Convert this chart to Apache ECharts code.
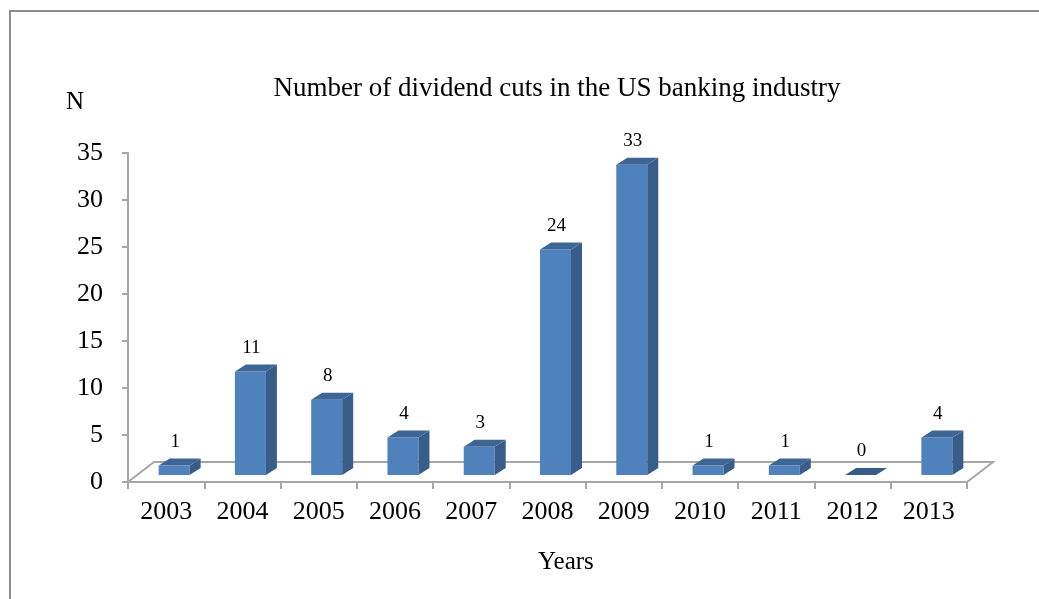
<!DOCTYPE html>
<html>
<head>
<meta charset="utf-8">
<script src="https://cdn.jsdelivr.net/npm/echarts@6/dist/echarts.min.js"></script>
<style>html,body{margin:0;padding:0;background:#fff}#c{width:1039px;height:599px}</style>
</head>
<body>
<div id="c"></div>
<script>
const years = ['2003','2004','2005','2006','2007','2008','2009','2010','2011','2012','2013'];
const cuts = [1, 11, 8, 4, 3, 24, 33, 1, 1, 0, 4];
const titleText = 'Number of dividend cuts in the US banking industry';
const yName = 'N';
const xName = 'Years';

const FONT = "'Liberation Serif','Times New Roman',serif";
const chart = echarts.init(document.getElementById('c'), null, {renderer: 'canvas'});

const FRONT = '#4f81bd', SIDE = '#385d8a', TOP = '#3d6696';
const BW = 31, OX = 8, OY = -7, DX = 11, DY = -7;
const FLOOR_DX = 26, FLOOR_DY = -20;

function renderBar(params, api) {
  const i = api.value(0), v = api.value(1);
  const p0 = api.coord([i, 0]);
  const p1 = api.coord([i, v]);
  const left = p0[0] + OX - BW / 2, right = left + BW;
  const bottom = p0[1] + OY, top = p1[1] + OY;
  const children = [];
  if (bottom - top > 0.5) {
    children.push({type: 'rect', shape: {x: left, y: top, width: BW, height: bottom - top}, style: {fill: FRONT}});
    children.push({type: 'polygon', shape: {points: [[right, top], [right + DX, top + DY], [right + DX, bottom + DY], [right, bottom]]}, style: {fill: SIDE}});
  }
  children.push({type: 'polygon', shape: {points: [[left, top], [left + DX, top + DY], [right + DX, top + DY], [right, top]]}, style: {fill: v > 0 ? TOP : SIDE}});
  children.push({type: 'text', style: {text: String(v), x: left + BW / 2 + 1, y: top + DY - 7, align: 'center', verticalAlign: 'bottom', font: '19px ' + FONT, fill: '#000'}});
  return {type: 'group', children: children};
}

function renderFloor(params, api) {
  const cs = params.coordSys;
  const x0 = cs.x, x1 = cs.x + cs.width, y = cs.y + cs.height;
  return {type: 'polygon', shape: {points: [[x0, y], [x0 + FLOOR_DX, y + FLOOR_DY], [x1 + FLOOR_DX, y + FLOOR_DY], [x1, y]]},
    style: {fill: '#fff', stroke: '#a6a6a6', lineWidth: 2}, z2: 0};
}

chart.setOption({
  animation: false,
  backgroundColor: '#fff',
  title: {text: titleText, left: 552, top: 70, textAlign: 'center',
    textStyle: {fontFamily: FONT, fontSize: 27, fontWeight: 'normal', color: '#000'}},
  graphic: [
    {type: 'rect', shape: {x: 10, y: 11, width: 1100, height: 700}, style: {fill: 'none', stroke: '#8c8c8c', lineWidth: 2}, silent: true},
    {type: 'text', left: 66, top: 90, style: {text: yName, font: '25px ' + FONT, fill: '#000'}},
    {type: 'text', left: 538, top: 550, style: {text: xName, font: '25px ' + FONT, fill: '#000'}}
  ],
  grid: {left: 128, right: 72, top: 153, bottom: 117},
  xAxis: {
    type: 'category', data: years, boundaryGap: true,
    axisLine: {lineStyle: {color: '#a6a6a6', width: 2}},
    axisTick: {show: true, length: 7, lineStyle: {color: '#a6a6a6', width: 2}},
    axisLabel: {margin: 17, fontFamily: FONT, fontSize: 26, color: '#000'}
  },
  yAxis: {
    type: 'value', min: 0, max: 35, interval: 5,
    axisLine: {show: true, lineStyle: {color: '#a6a6a6', width: 2}},
    axisTick: {show: true, length: 6, lineStyle: {color: '#a6a6a6', width: 2}},
    axisLabel: {margin: 25, fontFamily: FONT, fontSize: 26, color: '#000'},
    splitLine: {show: false}
  },
  series: [
    {type: 'custom', renderItem: renderFloor, data: [[0, 0]], z: 1, silent: true},
    {type: 'custom', renderItem: renderBar, encode: {x: 0, y: 1}, data: years.map((y, i) => [i, cuts[i]]), z: 2}
  ]
});
</script>
</body>
</html>
